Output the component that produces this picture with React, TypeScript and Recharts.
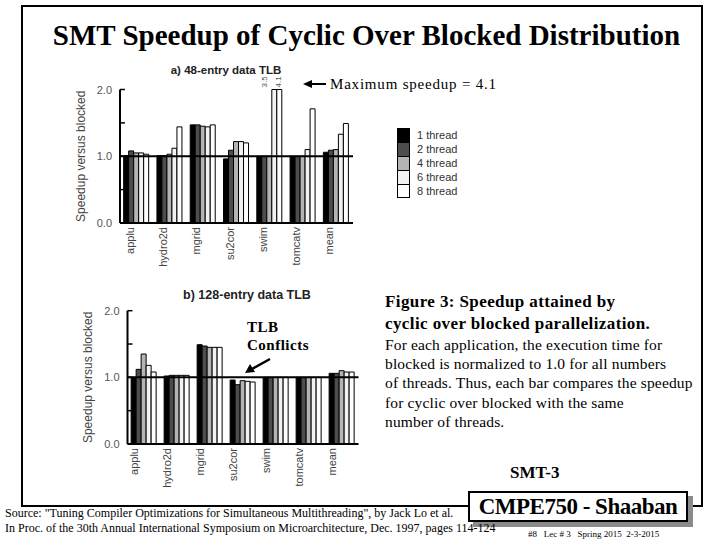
import React from 'react';
import { BarChart, Bar, XAxis, YAxis, ReferenceLine, Legend } from 'recharts';

const apps = ['applu', 'hydro2d', 'mgrid', 'su2cor', 'swim', 'tomcatv', 'mean'];
const threadNames = ['1 thread', '2 thread', '4 thread', '6 thread', '8 thread'];
const threadColors = ['#000000', '#4d4d4d', '#b4b4b4', '#f2f2f2', '#ffffff'];
const yTicks = [0, 0.25, 0.5, 0.75, 1, 1.25, 1.5, 1.75, 2];
const Y_MAX = 2;

// a) 48-entry data TLB
const tlb48Thread1 = [1.01, 1.01, 1.47, 0.96, 1.0, 1.0, 1.06];
const tlb48Thread2 = [1.08, 1.01, 1.47, 1.09, 1.0, 1.0, 1.09];
const tlb48Thread4 = [1.05, 1.03, 1.45, 1.22, 1.0, 1.0, 1.1];
const tlb48Thread6 = [1.05, 1.12, 1.44, 1.22, 3.5, 1.1, 1.33];
const tlb48Thread8 = [1.03, 1.44, 1.47, 1.2, 4.1, 1.71, 1.49];

// b) 128-entry data TLB
const tlb128Thread1 = [1.0, 1.02, 1.49, 0.96, 1.0, 1.0, 1.06];
const tlb128Thread2 = [1.12, 1.03, 1.47, 0.89, 1.0, 1.0, 1.06];
const tlb128Thread4 = [1.35, 1.03, 1.45, 0.95, 1.0, 1.0, 1.1];
const tlb128Thread6 = [1.18, 1.03, 1.45, 0.94, 1.0, 1.0, 1.08];
const tlb128Thread8 = [1.08, 1.03, 1.45, 0.93, 1.0, 1.0, 1.08];

const tlb48Series = [tlb48Thread1, tlb48Thread2, tlb48Thread4, tlb48Thread6, tlb48Thread8];
const tlb128Series = [tlb128Thread1, tlb128Thread2, tlb128Thread4, tlb128Thread6, tlb128Thread8];

const SANS = '"Liberation Sans", Arial, sans-serif';
const SERIF = '"Liberation Serif", "Times New Roman", serif';

const buildRows = (series: number[][]) =>
    apps.map((app, i) => {
        const row: any = { app };
        series.forEach((s, k) => {
            row['t' + k] = s[i];
        });
        return row;
    });

// y ticks drawn inward, labels only on whole numbers
const YTick = (props: any) => {
    const { x, y, payload } = props;
    const v = payload.value;
    const major = Math.abs(v - Math.round(v)) < 1e-6;
    return (
        <g>
            <line x1={x + 8} x2={x + 13} y1={y} y2={y} stroke="#000" strokeWidth={1.5} />
            {major && (
                <text x={x} y={y} dy={4} textAnchor="end" fontSize={11} fill="#555" fontFamily={SANS}>
                    {v.toFixed(1)}
                </text>
            )}
        </g>
    );
};

const makeXTick = (shift: number) => (props: any) => {
    const { x, y, payload } = props;
    return (
        <text
            transform={`translate(${x + shift},${y}) rotate(-90)`}
            textAnchor="end"
            fontSize={11}
            fill="#444"
            fontFamily={SANS}
        >
            {payload.value}
        </text>
    );
};

// labels for bars that run off the top of the axis
const makeOverflowLabel = (values: number[], plotTop: number, shift: number) => (props: any) => {
    const vb = props.viewBox || props;
    const idx = props.index;
    const v = values[idx];
    if (v === undefined || v <= Y_MAX) return null;
    const cx = vb.x + vb.width / 2 + shift;
    return (
        <text
            key={'ov' + idx}
            transform={`translate(${cx},${plotTop - 2}) rotate(-90)`}
            textAnchor="start"
            fontSize={8}
            fill="#555"
            fontFamily={SANS}
        >
            {v.toFixed(1)}
        </text>
    );
};

const ThreadLegend = (props: any) => (
    <div style={{ fontFamily: SANS, fontSize: 11, color: '#333', whiteSpace: 'nowrap', width: 70 }}>
        {(props.payload || []).map((entry: any, i: number) => (
            <div key={i} style={{ display: 'flex', alignItems: 'center', height: 14 }}>
                <span
                    style={{
                        display: 'inline-block',
                        flex: 'none',
                        boxSizing: 'border-box',
                        width: 13,
                        height: 14,
                        background: entry.color,
                        borderLeft: '1.5px solid #000',
                        borderRight: '1.5px solid #000',
                        borderTop: '1.5px solid #000',
                        borderBottom: i === 4 ? '1.5px solid #000' : 'none',
                    }}
                />
                <span style={{ marginLeft: 7, lineHeight: '14px' }}>{entry.value}</span>
            </div>
        ))}
    </div>
);

interface SpeedupChartProps {
    series: number[][];
    left: number;
    top: number;
    width: number;
    height: number;
    margin: { top: number; right: number; bottom: number; left: number };
    labelShift: number;
    yLabelShift: number;
    legendPos?: { left: number; top: number };
}

const SpeedupChart: React.FC<SpeedupChartProps> = ({ series, left, top, width, height, margin, labelShift, yLabelShift, legendPos }) => {
    const data = buildRows(series);
    return (
        <div style={{ position: 'absolute', left, top, width, height }}>
            <BarChart width={width} height={height} data={data} margin={margin} barGap={0} barCategoryGap="11%">
                <XAxis
                    dataKey="app"
                    interval={0}
                    height={50}
                    tickSize={0}
                    tickMargin={4}
                    tickLine={false}
                    axisLine={{ stroke: '#000', strokeWidth: 2 }}
                    tick={makeXTick(labelShift)}
                />
                <YAxis
                    width={40}
                    domain={[0, Y_MAX]}
                    ticks={yTicks}
                    tickSize={0}
                    tickMargin={8}
                    tickLine={false}
                    axisLine={{ stroke: '#000', strokeWidth: 2 }}
                    tick={<YTick />}
                    label={(p: any) => {
                        const vb = p.viewBox;
                        return (
                            <text
                                transform={`translate(${vb.x + yLabelShift},${vb.y + vb.height / 2}) rotate(-90)`}
                                textAnchor="middle"
                                dominantBaseline="central"
                                fontSize={12}
                                fill="#444"
                                fontFamily={SANS}
                            >
                                Speedup versus blocked
                            </text>
                        );
                    }}
                />
                {legendPos && (
                    <Legend
                        layout="vertical"
                        align="center"
                        verticalAlign="middle"
                        wrapperStyle={{ left: legendPos.left, top: legendPos.top, width: 80 }}
                        content={<ThreadLegend />}
                    />
                )}
                {threadNames.map((name, k) => (
                    <Bar
                        key={name}
                        name={name}
                        dataKey={(row: any) => Math.min(row['t' + k], Y_MAX)}
                        fill={threadColors[k]}
                        stroke="#000"
                        strokeWidth={1}
                        isAnimationActive={false}
                        label={k >= 3 ? makeOverflowLabel(series[k], margin.top, k === 3 ? -7 : 2) : undefined}
                    />
                ))}
                <ReferenceLine y={1} stroke="#000" strokeWidth={2} />
            </BarChart>
        </div>
    );
};

const txt = (extra: React.CSSProperties): React.CSSProperties => ({
    position: 'absolute',
    whiteSpace: 'pre',
    fontFamily: SERIF,
    color: '#000',
    ...extra,
});

export default function App() {
    return (
        <div style={{ position: 'absolute', left: 0, top: 0, width: 720, height: 540, background: '#fff', overflow: 'hidden' }}>
            {/* slide frame */}
            <div style={{ position: 'absolute', left: 21, top: 5, width: 682, height: 502, border: '2.5px solid #000', boxSizing: 'border-box' }} />

            <div style={txt({ left: 0, width: 733, top: 18, fontSize: 29, lineHeight: '34px', fontWeight: 'bold', textAlign: 'center' })}>
                SMT Speedup of Cyclic Over Blocked Distribution
            </div>

            <div style={txt({ left: 126, width: 200, top: 62, fontFamily: SANS, fontSize: 11.5, lineHeight: '16px', fontWeight: 'bold', textAlign: 'center', color: '#222' })}>
                a) 48-entry data TLB
            </div>
            <div style={txt({ left: 147, width: 200, top: 287, fontFamily: SANS, fontSize: 12.5, lineHeight: '16px', fontWeight: 'bold', textAlign: 'center', color: '#222' })}>
                b) 128-entry data TLB
            </div>

            <SpeedupChart
                series={tlb48Series}
                left={70}
                top={66}
                width={360}
                height={214}
                margin={{ top: 23.5, right: 77, bottom: 7, left: 10 }}
                labelShift={-3}
                yLabelShift={1}
                legendPos={{ left: 327, top: 62 }}
            />
            <SpeedupChart
                series={tlb128Series}
                left={70}
                top={300}
                width={300}
                height={200}
                margin={{ top: 10.7, right: 11.5, bottom: 6, left: 17.5 }}
                labelShift={-6}
                yLabelShift={0}
            />

            {/* annotations */}
            <svg width={720} height={540} style={{ position: 'absolute', left: 0, top: 0, pointerEvents: 'none' }}>
                <line x1={326} y1={84} x2={311} y2={84} stroke="#000" strokeWidth={2} />
                <polygon points="303,84 312,80 312,88" fill="#000" />
                <line x1={270} y1={359} x2={252} y2={369} stroke="#000" strokeWidth={2.5} />
                <polygon points="245,373 250,364 255,372" fill="#000" />
            </svg>
            <div style={txt({ left: 330, top: 75, fontSize: 15, lineHeight: '18px', letterSpacing: 0.8 })}>Maximum speedup = 4.1</div>
            <div style={txt({ left: 247, top: 318, fontSize: 15, lineHeight: '18px', fontWeight: 'bold', letterSpacing: 0.5 })}>
                {'TLB\nConflicts'}
            </div>

            <div style={txt({ left: 385, top: 291, fontSize: 17, lineHeight: '22px', fontWeight: 'bold', letterSpacing: 0.4 })}>
                {'Figure 3: Speedup attained by\ncyclic over blocked parallelization.'}
            </div>
            <div style={txt({ left: 385, top: 335, fontSize: 15.5, lineHeight: '19.2px', letterSpacing: 0.15 })}>
                {'For each application, the execution time for\nblocked is normalized to 1.0 for all numbers\nof threads. Thus, each bar compares the speedup\nfor cyclic over blocked with the same\nnumber of threads.'}
            </div>

            <div style={txt({ left: 510, top: 463, fontSize: 17, lineHeight: '20px', fontWeight: 'bold' })}>SMT-3</div>

            {/* footer */}
            <div style={{ position: 'absolute', left: 473, top: 496, width: 220, height: 31, background: '#8a8a8a' }} />
            <div
                style={txt({
                    left: 468,
                    top: 491,
                    width: 220,
                    height: 31,
                    boxSizing: 'border-box',
                    border: '2px solid #000',
                    background: '#fff',
                    fontSize: 23,
                    lineHeight: '27px',
                    fontWeight: 'bold',
                    textAlign: 'center',
                    letterSpacing: -0.5,
                })}
            >
                CMPE750 - Shaaban
            </div>
            <div style={txt({ left: 5, top: 506, fontSize: 12, lineHeight: '15px' })}>
                {'Source: "Tuning Compiler Optimizations for Simultaneous Multithreading", by Jack Lo et al.\nIn Proc. of the 30th Annual International Symposium on Microarchitecture, Dec. 1997, pages 114-124'}
            </div>
            <div style={txt({ left: 528, top: 528, fontSize: 9, lineHeight: '12px' })}>{'#8   Lec # 3   Spring 2015  2-3-2015'}</div>
        </div>
    );
}
